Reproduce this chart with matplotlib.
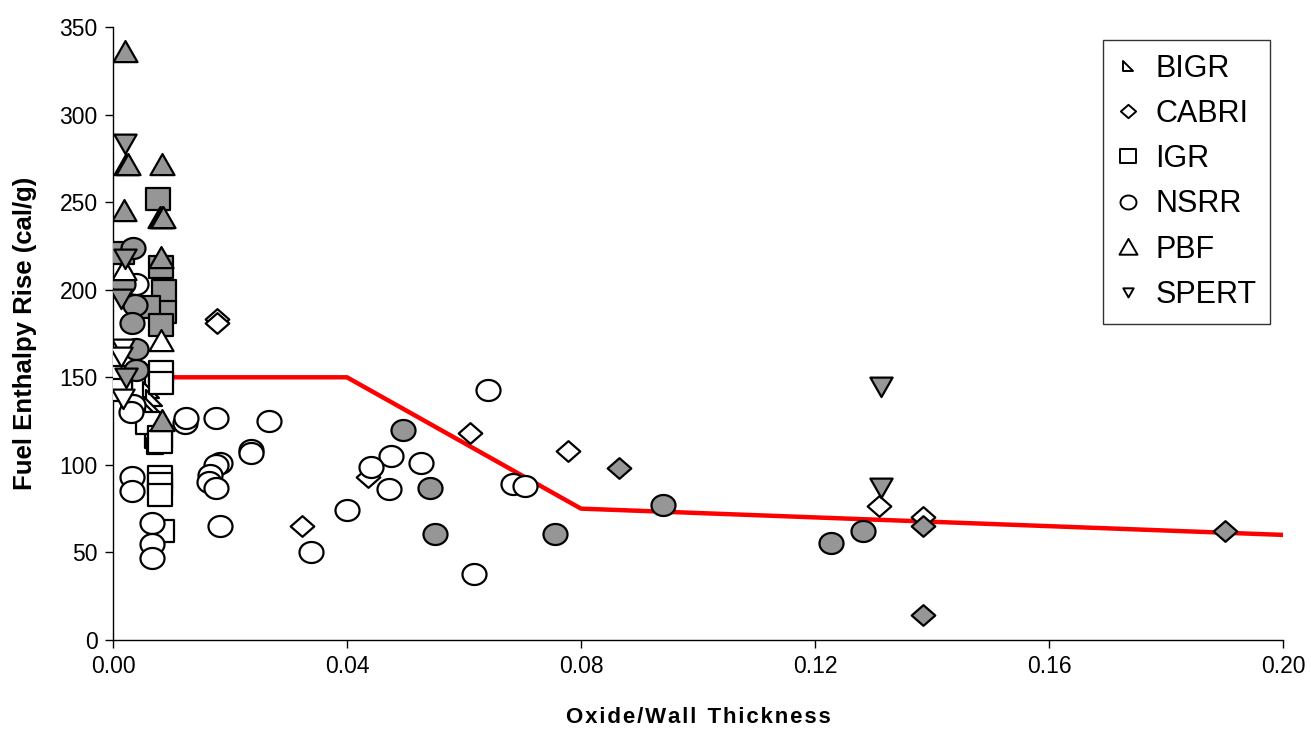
import matplotlib
matplotlib.use("Agg")
import matplotlib.pyplot as plt
from matplotlib.lines import Line2D
from matplotlib.path import Path
import numpy as np

plt.rcParams['font.family'] = ['Liberation Sans', 'DejaVu Sans']

# ---- data: (oxide/wall thickness, enthalpy rise, failed?) per test program ----
bigr_x = [0.0066, 0.0068, 0.0065, 0.0070, 0.0067, 0.0069, 0.0066, 0.0070, 0.0068, 0.0072]
bigr_y = [154, 149, 143, 138, 134, 130, 126, 121, 114, 111]
bigr_fail = [False] * 10

cabri_x = [0.0178, 0.0178, 0.0323, 0.0436, 0.0610, 0.0778, 0.1310, 0.1385,
           0.0865, 0.1385, 0.1385, 0.1900]
cabri_y = [183, 181, 65, 93, 118, 108, 76.5, 70,
           98, 65, 14, 62]
cabri_fail = [False] * 8 + [True] * 4

igr_x = [0.0077, 0.0015, 0.0082, 0.0088, 0.0088, 0.0060, 0.0082,
         0.0082, 0.0082, 0.0060, 0.0080, 0.0080, 0.0080, 0.0080, 0.0080, 0.0084,
         0.0012, 0.0012, 0.0012]
igr_y = [252, 221, 213, 199, 187, 190, 180,
         153, 147, 124, 116, 113, 93, 89, 83, 62,
         158, 150, 143]
igr_fail = [True] * 7 + [False] * 12

nsrr_x = [0.0035, 0.0017, 0.0038, 0.0032, 0.0039, 0.0039, 0.0496, 0.0542,
          0.0550, 0.0756, 0.0940, 0.1227, 0.1282,
          0.0039, 0.0035, 0.0031, 0.0123, 0.0032, 0.0032, 0.0067, 0.0067, 0.0067,
          0.0125, 0.0176, 0.0267, 0.0236, 0.0236, 0.0183, 0.0176, 0.0166, 0.0164,
          0.0176, 0.0183, 0.0338, 0.0400, 0.0641, 0.0475, 0.0441, 0.0526, 0.0472,
          0.0684, 0.0704, 0.0617]
nsrr_y = [224, 203, 191, 181, 166, 154, 120, 87,
          60.5, 60.5, 77, 55.4, 62,
          203, 134, 130, 124, 93, 85, 67, 55, 47,
          127, 127, 125, 108.5, 107, 101, 100, 94, 90,
          87, 65, 50, 74, 143, 105, 99, 101, 86,
          89, 88, 37.7]
nsrr_fail = [True] * 13 + [False] * 30

pbf_x = [0.0020, 0.0022, 0.0026, 0.0084, 0.0018, 0.0080, 0.0083, 0.0086,
         0.0082, 0.0083, 0.0018, 0.0082]
pbf_y = [336, 271, 271, 271, 245, 241, 241, 241,
         218, 125, 211, 171]
pbf_fail = [True] * 10 + [False] * 2

spert_x = [0.0020, 0.0020, 0.0013, 0.0022, 0.1312, 0.1312,
           0.0017, 0.0013, 0.0017]
spert_y = [284, 218, 195, 150, 145, 87.5,
           167, 162, 138]
spert_fail = [True] * 6 + [False] * 3

# limiting curve
limit_x = [0.0, 0.04, 0.08, 0.20]
limit_y = [150, 150, 75, 60]

x_ticks = [0.00, 0.04, 0.08, 0.12, 0.16, 0.20]
y_ticks = [0, 50, 100, 150, 200, 250, 300, 350]


def closed(verts):
    codes = [Path.MOVETO] + [Path.LINETO] * (len(verts) - 1) + [Path.CLOSEPOLY]
    return Path(list(verts) + [verts[0]], codes)


# slightly wide marker shapes (width 1, height < 1)
t = np.linspace(0, 2 * np.pi, 60, endpoint=False)
m_ellipse = closed(list(zip(np.cos(t), 0.875 * np.sin(t))))
m_diamond = closed([(0, 0.875), (1, 0), (0, -0.875), (-1, 0)])
m_square = closed([(-1, -0.9), (1, -0.9), (1, 0.9), (-1, 0.9)])
m_up = closed([(-1, -0.8), (1, -0.8), (0, 0.95)])
m_down = closed([(-1, 0.8), (1, 0.8), (0, -0.95)])
m_bigr = closed([(-1, 1), (-1, -1), (1, -1)])

GRAY = "#969696"

fig = plt.figure(figsize=(13.11, 7.31), dpi=100)
ax = fig.add_axes([113 / 1311, 1 - 640 / 731, 1170 / 1311, 613 / 731])

# name, x, y, failed, marker, plot size, legend size
series = [
    ("BIGR", bigr_x, bigr_y, bigr_fail, m_bigr, 12, 7),
    ("CABRI", cabri_x, cabri_y, cabri_fail, m_diamond, 17, 11),
    ("IGR", igr_x, igr_y, igr_fail, m_square, 17, 11.5),
    ("NSRR", nsrr_x, nsrr_y, nsrr_fail, m_ellipse, 17.3, 11.5),
    ("PBF", pbf_x, pbf_y, pbf_fail, m_up, 17.3, 13),
    ("SPERT", spert_x, spert_y, spert_fail, m_down, 16, 7.5),
]

handles = []
for name, xs, ys, fail, mk, ms, lms in series:
    xs = np.asarray(xs)
    ys = np.asarray(ys)
    fail = np.asarray(fail)
    ax.plot(xs[~fail], ys[~fail], linestyle="none", marker=mk, markersize=ms,
            markerfacecolor="white", markeredgecolor="black", markeredgewidth=1.6,
            zorder=3)
    ax.plot(xs[fail], ys[fail], linestyle="none", marker=mk, markersize=ms,
            markerfacecolor=GRAY, markeredgecolor="black", markeredgewidth=1.6,
            zorder=3)
    handles.append(Line2D([], [], linestyle="none", marker=mk, markersize=lms,
                          markerfacecolor="white", markeredgecolor="black",
                          markeredgewidth=1.4, label=name))

ax.plot(limit_x, limit_y, color="#ff0000", linewidth=3.2, zorder=2)

ax.set_xlim(0, 0.20)
ax.set_ylim(0, 350)
ax.set_xticks(x_ticks)
ax.set_xticklabels([f"{v:.2f}" for v in x_ticks])
ax.set_yticks(y_ticks)
ax.tick_params(axis="both", labelsize=16.5, length=6, width=1, direction="out",
               pad=5)
for s in ("top", "right"):
    ax.spines[s].set_visible(False)
for s in ("left", "bottom"):
    ax.spines[s].set_linewidth(1.0)

xlabel = "\u200a".join("Oxide/Wall") + "\u2002" + "\u200a".join("Thickness")
ax.set_xlabel(xlabel, fontsize=16, fontweight="bold", labelpad=21)
ax.set_ylabel("Fuel Enthalpy Rise (cal/g)", fontsize=18.5, fontweight="bold",
              labelpad=16)

leg = ax.legend(handles=handles, loc="upper right",
                bbox_to_anchor=(0.989, 0.979), fontsize=22, frameon=True,
                fancybox=False, edgecolor="black", handlelength=0.7,
                handletextpad=0.55, labelspacing=0.5, borderpad=0.45,
                borderaxespad=0)
leg.get_frame().set_linewidth(1.0)

fig.savefig("out.png", dpi=100)
